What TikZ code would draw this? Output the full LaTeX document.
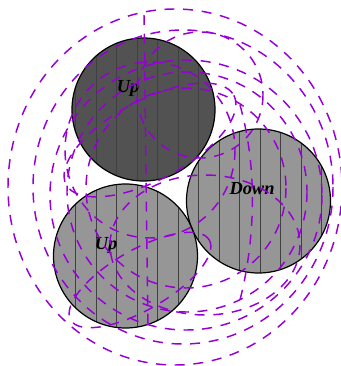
\documentclass[tikz,border=0pt]{standalone}
\usepackage{fontspec}
\setmainfont{Liberation Serif}
\begin{document}
\begin{tikzpicture}[x=0.75pt,y=-0.75pt,
  ball/.style={draw=black,line width=0.9pt},
  vline/.style={draw=black!75,line width=0.45pt},
  dsh/.style={draw={rgb,255:red,150;green,0;blue,215},line width=1.1pt,dash pattern=on 7.5pt off 6.5pt},
  lbl/.style={font=\fontsize{13.8}{16}\selectfont\bfseries\itshape}]
\definecolor{darkball}{RGB}{82,82,82}
\definecolor{lightball}{RGB}{150,150,150}
\useasboundingbox (0,0) rectangle (341,366);
% circles
\fill[darkball] (143.5,109.5) circle (71.5);
\fill[lightball] (258.5,201) circle (72);
\fill[lightball] (125.5,256) circle (72);
\begin{scope}
  \clip (143.5,109.5) circle (71.5);
  \foreach \k in {0,...,12} {\draw[vline] ({75.5+20.5*\k},0) -- ({75.5+20.5*\k},366);}
\end{scope}
\begin{scope}
  \clip (258.5,201) circle (72);
  \foreach \k in {0,...,12} {\draw[vline] ({75.5+20.5*\k},0) -- ({75.5+20.5*\k},366);}
\end{scope}
\begin{scope}
  \clip (125.5,256) circle (72);
  \foreach \k in {0,...,12} {\draw[vline] ({75.5+20.5*\k},0) -- ({75.5+20.5*\k},366);}
\end{scope}
\node[ball,circle,minimum size=143pt*0.75,inner sep=0pt] (top) at (143.5,109.5) {};
\node[ball,circle,minimum size=144pt*0.75,inner sep=0pt] (down) at (258.5,201) {};
\node[ball,circle,minimum size=144pt*0.75,inner sep=0pt] (bot) at (125.5,256) {};
\node[lbl] (t1) at (128,88) {Up};
\node[lbl] (t2) at (252,189) {Down};
\node[lbl] (t3) at (106,245) {Up};
% dashed curves
\draw[dsh] (175,187) ellipse [x radius=167, y radius=178];
\draw[dsh] (183,187) ellipse [x radius=150, y radius=157];
\draw[dsh] (186,195) ellipse [x radius=136, y radius=135];
\draw[dsh] (187,192) circle (120);
\draw[dsh] (186,188) circle (100);
\draw[dsh] (200,95) circle (63);
\coordinate (v1) at (144,15);
\coordinate (v2) at (148,330);
\draw[dsh] (v1) -- (v2);
\draw[dsh] (205,245) ellipse [x radius=95, y radius=70];
\draw[dsh] (150,150) ellipse [x radius=85, y radius=88];
\draw[dsh,rotate around={28:(150,140)}] (150,140) ellipse [x radius=95, y radius=40];
\draw[dsh,rotate around={30:(140,280)}] (140,280) ellipse [x radius=80, y radius=30];
\coordinate (w1) at (240,105);
\coordinate (w2) at (240,300);
\draw[dsh] (w1) .. controls (258,170) and (255,240) .. (w2);
\end{tikzpicture}
\end{document}
